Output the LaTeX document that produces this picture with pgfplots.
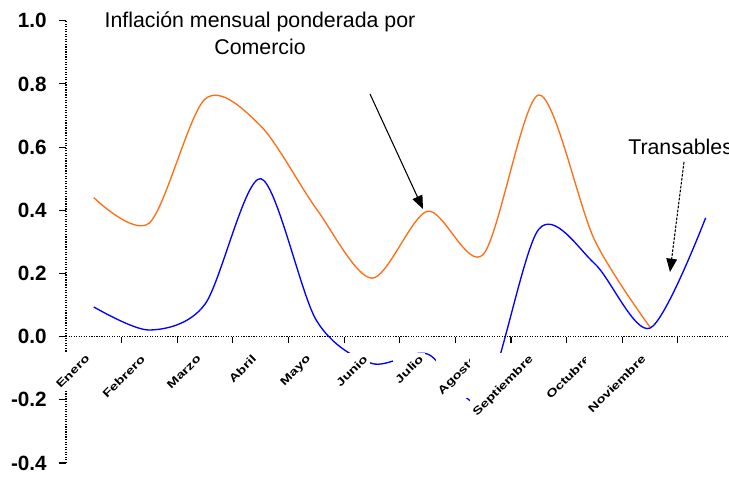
\documentclass[border=0pt]{standalone}
\usepackage{fontspec}
\setmainfont{Liberation Sans}
\usepackage{graphicx}
\usepackage{pgfplots}
\pgfplotsset{compat=1.18}
\usetikzlibrary{arrows.meta}
\definecolor{orangeline}{RGB}{255,110,20}
\definecolor{blueline}{RGB}{0,0,255}
\newcommand{\mlab}[2]{\node[anchor=north east, fill=white, inner sep=1pt, xshift=-1.5pt, yshift=-12pt] at (axis cs:#1,0) {\rotatebox{45}{\scalebox{1}[0.75]{\bfseries\fontsize{11}{12}\selectfont #2}}};}
\begin{document}
\begin{tikzpicture}[x=1pt,y=1pt]
\path[use as bounding box, clip] (0,0) rectangle (546.75,357);
\begin{axis}[
  at={(49.5pt,9.75pt)}, anchor=south west,
  scale only axis, width=497.25pt, height=331.7pt,
  xmin=0.5, xmax=12.42, ymin=-0.4, ymax=1.0,
  axis x line=middle, axis y line=left,
  axis line style={-, black, line width=0.9pt, densely dotted},
  tick align=outside, major tick length=5pt,
  tick style={black, line width=0.8pt},
  clip mode=individual,
  ytick={-0.4,-0.2,0,0.2,0.4,0.6,0.8,1.0},
  yticklabel style={font=\bfseries\fontsize{15.5}{16}\selectfont, xshift=-6pt,
    /pgf/number format/.cd, fixed, fixed zerofill, precision=1, assume math mode=true},
  xtick={1.5,2.5,3.5,4.5,5.5,6.5,7.5,8.5,9.5,10.5,11.5},
  xticklabels={},
]
\addplot[orangeline, line width=1pt, smooth, tension=0.5] coordinates {
  (1,0.44) (2,0.36) (3,0.752) (4,0.667) (5,0.405) (6,0.185)
  (7,0.397) (8,0.26) (9,0.765) (10,0.307) (11,0.03)};
\addplot[blueline, line width=1pt, smooth, tension=0.5] coordinates {
  (1,0.094) (2,0.021) (3,0.103) (4,0.50) (5,0.052) (6,-0.085)
  (7,-0.055) (8,-0.2) (9,0.34) (10,0.232) (11,0.027) (12,0.376)};
\mlab{1}{Enero}
\mlab{2}{Febrero}
\mlab{3}{Marzo}
\mlab{4}{Abril}
\mlab{5}{Mayo}
\mlab{6}{Junio}
\mlab{7}{Julio}
\mlab{8}{Agosto}
\mlab{9}{Septiembre}
\mlab{10}{Octubre}
\mlab{11}{Noviembre}
\end{axis}
\node[anchor=base, inner sep=0pt, font=\fontsize{16}{18}\selectfont] at (195,336) {Inflación mensual ponderada por};
\node[anchor=base, inner sep=0pt, font=\fontsize{16}{18}\selectfont] at (195,315.75) {Comercio};
\node[anchor=base west, inner sep=0pt, font=\fontsize{16}{18}\selectfont] at (471,241.3) {Transables};
\draw[line width=0.8pt, -{Triangle[length=10pt,width=8pt]}] (277.5,286.5) -- (317.25,200.25);
\draw[line width=0.8pt, dash pattern=on 2pt off 1pt, -{Triangle[length=10pt,width=8pt]}] (513,235.5) -- (502.5,153);
\end{tikzpicture}
\end{document}
